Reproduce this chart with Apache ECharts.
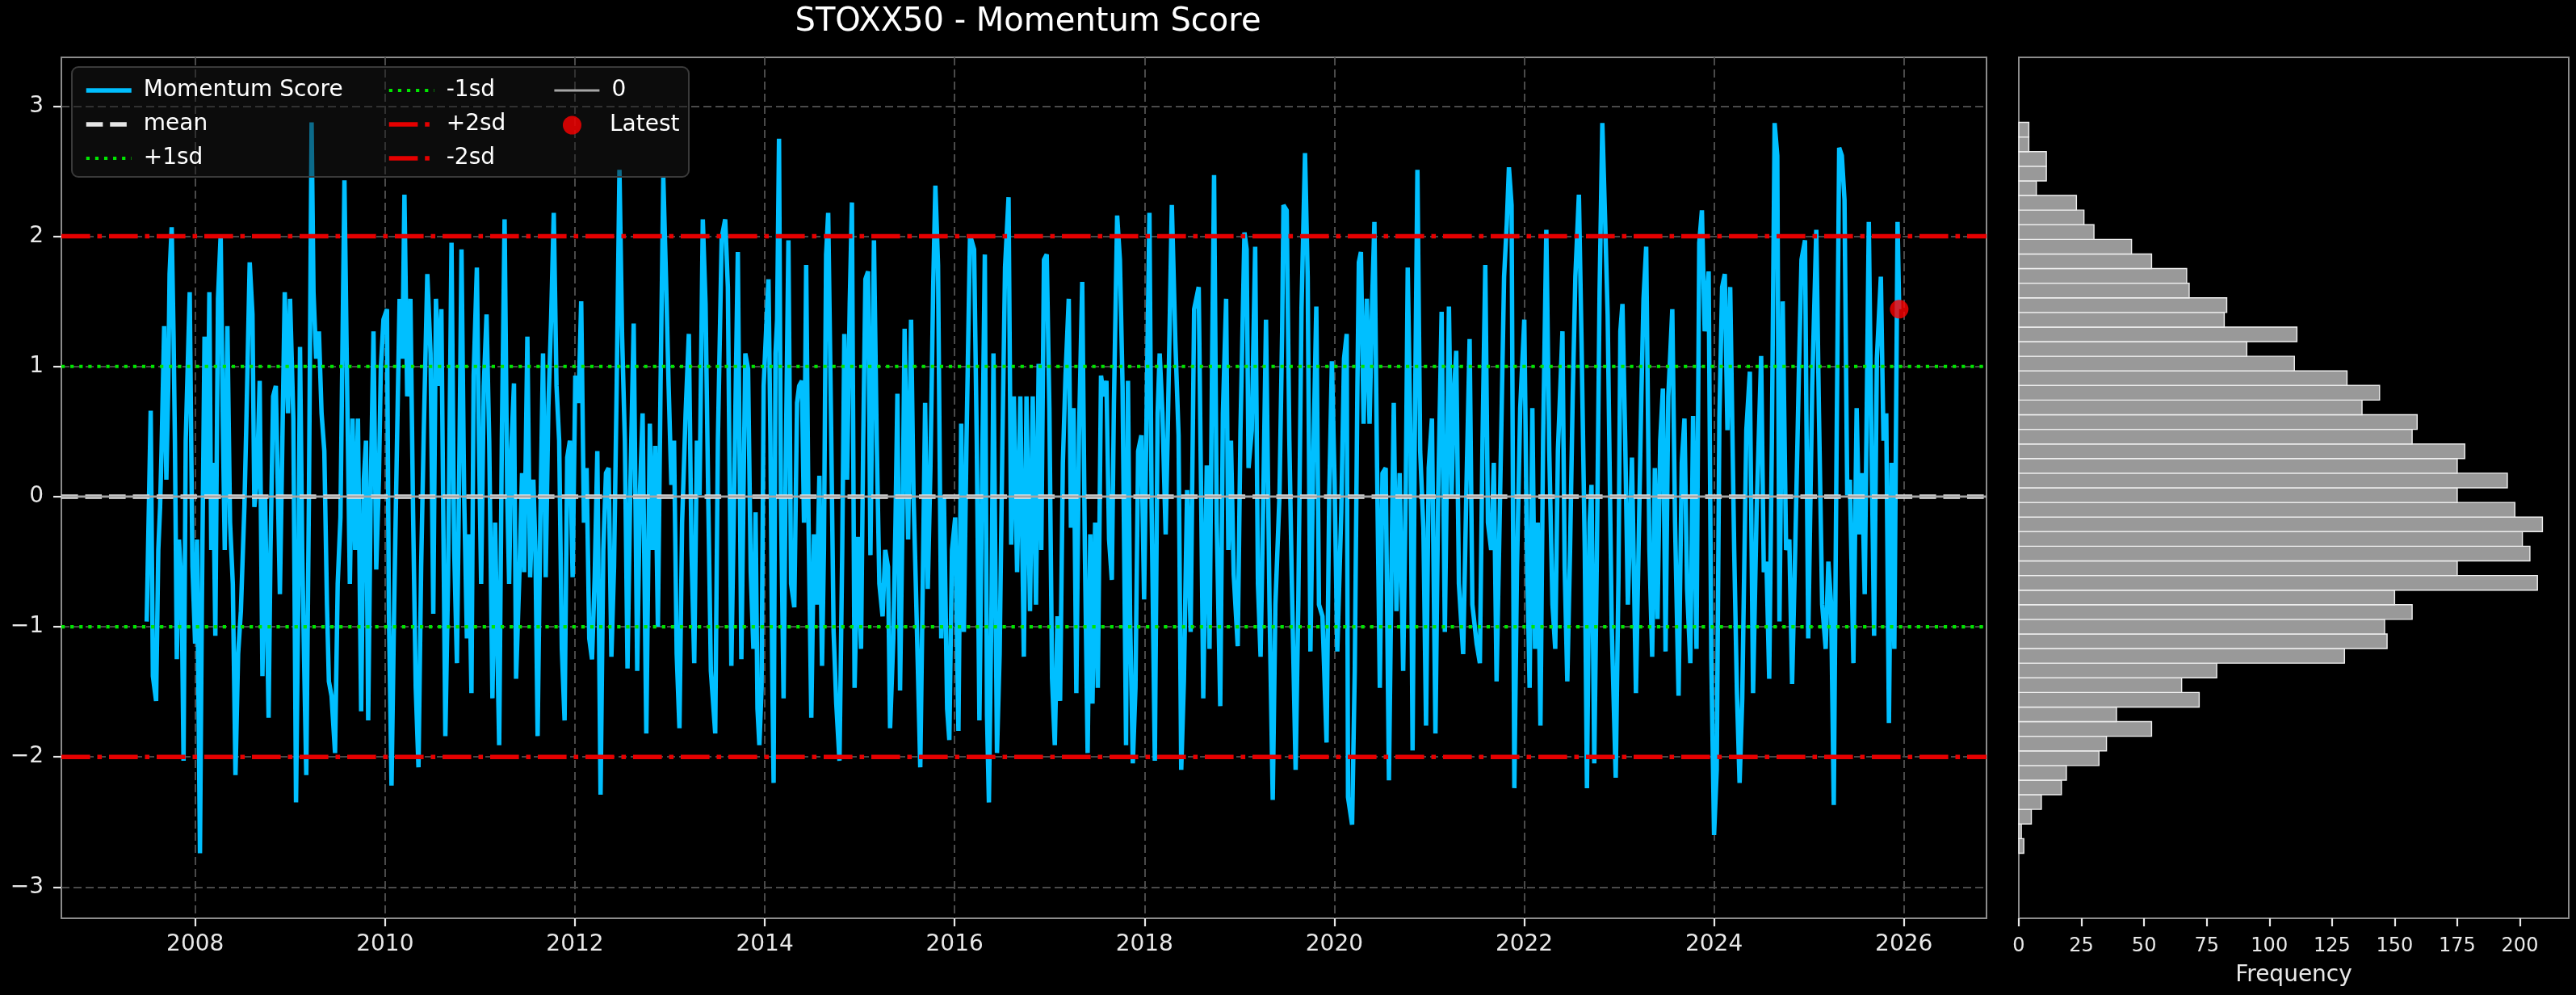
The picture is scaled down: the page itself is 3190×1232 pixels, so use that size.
<!DOCTYPE html>
<html><head><meta charset="utf-8">
<script src="https://cdn.jsdelivr.net/npm/echarts@6/dist/echarts.min.js"></script>
<style>html,body{margin:0;padding:0;background:#000;}#c{width:3190px;height:1232px;}</style>
</head><body><div id="c"></div>
<script>
// ---- Momentum score readings [decimal year, score] ----
const seg2007_2010 = [[2007.489,-0.96],[2007.503,-0.41],[2007.531,0.66],[2007.554,-1.38],[2007.588,-1.57],[2007.611,-0.41],[2007.630,-0.08],[2007.645,0.35],[2007.673,1.31],[2007.696,0.13],[2007.716,0.85],[2007.730,1.71],[2007.752,2.07],[2007.772,1.23],[2007.786,0.43],[2007.806,-1.25],[2007.829,-0.33],[2007.857,-0.71],[2007.877,-2.03],[2007.900,0.43],[2007.942,1.57],[2007.971,-0.54],[2007.999,-1.13],[2008.019,-0.33],[2008.050,-2.74],[2008.070,-0.83],[2008.098,1.23],[2008.127,0.01],[2008.149,1.57],[2008.169,-0.41],[2008.189,0.26],[2008.212,-1.07],[2008.240,1.52],[2008.268,2.01],[2008.291,0.56],[2008.311,-0.41],[2008.339,1.31],[2008.367,-0.20],[2008.396,-0.67],[2008.424,-2.14],[2008.452,-1.21],[2008.481,-0.88],[2008.518,-0.08],[2008.537,0.51],[2008.574,1.80],[2008.603,1.40],[2008.623,-0.08],[2008.651,0.13],[2008.679,0.89],[2008.708,-1.38],[2008.736,0.01],[2008.773,-1.70],[2008.793,-0.41],[2008.821,0.77],[2008.849,0.85],[2008.892,-0.75],[2008.920,0.51],[2008.943,1.57],[2008.977,0.64],[2008.999,1.52],[2009.034,0.60],[2009.062,-2.35],[2009.085,-0.83],[2009.104,1.15],[2009.127,-0.41],[2009.147,-1.25],[2009.170,-2.14],[2009.198,0.01],[2009.226,2.875],[2009.246,1.57],[2009.274,1.06],[2009.303,1.27],[2009.331,0.64],[2009.360,0.35],[2009.388,-0.83],[2009.408,-1.42],[2009.436,-1.53],[2009.473,-1.97],[2009.501,-0.67],[2009.530,-0.16],[2009.558,1.57],[2009.572,2.43],[2009.600,0.85],[2009.629,-0.67],[2009.657,0.60],[2009.685,-0.41],[2009.714,0.60],[2009.748,-1.65],[2009.776,0.13],[2009.799,0.43],[2009.822,-1.72],[2009.850,0.09],[2009.878,1.27],[2009.907,-0.56],[2009.935,0.13],[2009.955,0.98],[2009.983,1.36],[2010.020,1.44],[2010.040,-0.88],[2010.068,-2.22],[2010.096,-0.83],[2010.125,0.39],[2010.153,1.52],[2010.182,1.06],[2010.204,2.32],[2010.233,0.77],[2010.267,1.52],[2010.295,-0.12],[2010.323,-1.47],[2010.352,-2.08],[2010.380,-0.54],[2010.408,0.51],[2010.445,1.71],[2010.479,1.10],[2010.508,-0.90],[2010.536,1.52],[2010.564,0.85],[2010.593,1.44]];
const seg2010_2013 = [[2010.635,-1.84],[2010.663,-0.67],[2010.700,1.95],[2010.728,-0.41],[2010.757,-1.28],[2010.785,0.43],[2010.805,1.90],[2010.833,0.01],[2010.862,-1.09],[2010.882,-0.29],[2010.910,-1.51],[2010.933,0.93],[2010.967,1.76],[2010.989,0.43],[2011.012,-0.67],[2011.040,0.85],[2011.069,1.40],[2011.097,0.43],[2011.131,-1.55],[2011.159,-0.20],[2011.202,-1.91],[2011.230,0.43],[2011.259,2.13],[2011.287,0.01],[2011.307,-0.67],[2011.329,0.35],[2011.358,0.87],[2011.380,-1.40],[2011.414,-0.62],[2011.443,0.18],[2011.465,-0.58],[2011.499,1.23],[2011.528,-0.62],[2011.562,0.13],[2011.584,-0.41],[2011.607,-1.84],[2011.635,-0.20],[2011.664,1.10],[2011.692,-0.62],[2011.720,0.68],[2011.749,1.36],[2011.777,2.18],[2011.806,0.85],[2011.834,0.43],[2011.862,-1.17],[2011.891,-1.72],[2011.919,0.30],[2011.947,0.43],[2011.976,-0.62],[2012.004,0.93],[2012.038,0.72],[2012.066,1.50],[2012.095,-0.20],[2012.123,0.22],[2012.151,-1.09],[2012.180,-1.25],[2012.208,-0.62],[2012.236,0.35],[2012.270,-2.29],[2012.299,-0.41],[2012.327,0.18],[2012.355,0.22],[2012.384,-1.23],[2012.412,-0.54],[2012.440,0.85],[2012.469,2.51],[2012.497,1.23],[2012.526,0.43],[2012.554,-1.32],[2012.582,0.01],[2012.619,1.33],[2012.656,-1.34],[2012.684,0.01],[2012.713,0.64],[2012.752,-1.82],[2012.789,0.56],[2012.817,-0.41],[2012.846,0.39],[2012.874,-1.00],[2012.902,0.85],[2012.931,2.45],[2012.959,1.69],[2012.987,0.85],[2013.016,0.09],[2013.044,0.43],[2013.072,-1.21],[2013.101,-1.78],[2013.129,-0.20],[2013.166,0.64],[2013.200,1.25],[2013.228,-0.41],[2013.257,-1.28],[2013.285,0.43],[2013.313,0.01],[2013.347,2.13],[2013.376,1.48],[2013.404,0.01],[2013.432,-1.34],[2013.478,-1.82],[2013.506,0.43],[2013.546,1.99],[2013.583,2.13],[2013.611,1.61],[2013.648,-1.30],[2013.682,0.26],[2013.716,1.88]];
const seg2013_2016 = [[2013.753,-1.25],[2013.795,1.10],[2013.824,0.98],[2013.852,-0.58],[2013.880,-1.17],[2013.903,-0.12],[2013.923,-1.63],[2013.943,-1.91],[2013.966,-1.47],[2013.988,0.85],[2014.016,1.31],[2014.039,1.67],[2014.059,0.47],[2014.079,-1.38],[2014.093,-2.20],[2014.113,1.10],[2014.130,1.36],[2014.150,2.75],[2014.170,0.01],[2014.198,-1.55],[2014.221,0.26],[2014.249,1.97],[2014.277,-0.67],[2014.311,-0.85],[2014.340,0.72],[2014.362,0.85],[2014.391,0.89],[2014.413,-0.20],[2014.436,1.78],[2014.461,-0.20],[2014.490,-1.70],[2014.518,-0.29],[2014.547,-0.83],[2014.575,0.16],[2014.603,-1.30],[2014.623,-0.41],[2014.646,1.86],[2014.668,2.18],[2014.697,0.64],[2014.725,-1.04],[2014.753,-1.59],[2014.787,-2.03],[2014.816,-0.41],[2014.838,1.25],[2014.867,0.13],[2014.895,1.48],[2014.918,2.26],[2014.946,-1.47],[2014.980,-0.31],[2015.014,-1.17],[2015.037,0.43],[2015.060,1.67],[2015.088,1.73],[2015.113,-0.45],[2015.150,1.97],[2015.179,0.43],[2015.207,-0.67],[2015.241,-0.92],[2015.269,-0.41],[2015.298,-0.54],[2015.320,-1.78],[2015.354,-1.09],[2015.377,-0.20],[2015.397,0.79],[2015.425,-1.49],[2015.454,0.01],[2015.473,1.29],[2015.510,-0.33],[2015.541,1.36],[2015.567,0.01],[2015.595,-0.79],[2015.638,-2.08],[2015.666,-0.58],[2015.689,0.72],[2015.717,-0.71],[2015.745,0.22],[2015.774,1.61],[2015.797,2.39],[2015.825,1.78],[2015.859,-1.09],[2015.887,0.01],[2015.921,-1.63],[2015.944,-1.87],[2015.972,-0.41],[2016.006,-0.16],[2016.040,-1.80],[2016.069,0.56],[2016.097,-1.04],[2016.125,0.43],[2016.162,2.01],[2016.205,1.90],[2016.233,0.43],[2016.261,-1.72],[2016.290,0.18],[2016.318,1.86],[2016.341,-1.68],[2016.361,-2.35],[2016.389,-0.79],[2016.409,1.10],[2016.446,-1.97],[2016.474,-1.21],[2016.502,0.35],[2016.531,1.76],[2016.568,2.30],[2016.596,-0.37],[2016.624,0.77],[2016.658,-0.58],[2016.692,0.77],[2016.729,-1.23],[2016.757,0.77],[2016.794,-0.88],[2016.823,0.77],[2016.857,-0.83]];
const seg2016_2019 = [[2016.885,1.02],[2016.913,-0.41],[2016.941,1.82],[2016.970,1.86],[2016.998,0.68],[2017.026,-1.40],[2017.055,-1.91],[2017.083,-0.92],[2017.111,-1.57],[2017.140,0.26],[2017.168,0.93],[2017.202,1.52],[2017.225,-0.24],[2017.253,0.68],[2017.282,-1.51],[2017.310,0.47],[2017.344,1.65],[2017.372,-0.41],[2017.401,-1.97],[2017.429,-0.29],[2017.452,-1.59],[2017.480,-0.20],[2017.508,-1.47],[2017.542,0.93],[2017.571,0.77],[2017.599,0.89],[2017.627,-0.33],[2017.656,-0.64],[2017.678,0.72],[2017.712,2.16],[2017.741,1.82],[2017.769,0.85],[2017.806,-1.91],[2017.826,0.89],[2017.848,-0.92],[2017.877,-2.05],[2017.905,-1.47],[2017.933,0.35],[2017.967,0.47],[2017.996,-0.79],[2018.018,0.43],[2018.052,2.18],[2018.075,-0.08],[2018.109,-2.03],[2018.138,0.64],[2018.160,1.10],[2018.189,0.64],[2018.223,-0.29],[2018.245,0.51],[2018.288,2.24],[2018.325,1.19],[2018.359,0.47],[2018.387,-2.10],[2018.415,-1.42],[2018.449,0.05],[2018.486,-1.04],[2018.523,1.44],[2018.571,1.61],[2018.600,-0.20],[2018.619,-1.55],[2018.656,0.24],[2018.685,-1.17],[2018.713,1.10],[2018.733,2.47],[2018.761,-0.20],[2018.798,-1.61],[2018.826,0.64],[2018.860,1.52],[2018.883,-0.41],[2018.911,0.43],[2018.940,-0.60],[2018.982,-1.15],[2019.011,0.51],[2019.053,2.03],[2019.076,1.90],[2019.096,0.22],[2019.130,0.51],[2019.166,1.92],[2019.195,-0.67],[2019.223,-1.23],[2019.252,0.01],[2019.280,1.36],[2019.317,-0.83],[2019.351,-2.33],[2019.379,-0.83],[2019.422,0.01],[2019.450,1.27],[2019.464,2.24],[2019.498,2.20],[2019.526,0.43],[2019.549,-0.54],[2019.592,-2.10],[2019.620,-0.83],[2019.654,1.44],[2019.691,2.64],[2019.719,1.69],[2019.748,-1.19],[2019.776,0.22],[2019.810,1.46],[2019.838,-0.83],[2019.875,-0.92],[2019.918,-1.89],[2019.946,0.01],[2019.974,1.04]];
const seg2020_2023 = [[2020.002,0.13],[2020.031,-1.19],[2020.073,-0.12],[2020.102,1.06],[2020.130,1.25],[2020.144,-2.31],[2020.187,-2.52],[2020.215,-1.34],[2020.243,0.85],[2020.258,1.80],[2020.280,1.88],[2020.308,0.56],[2020.342,1.52],[2020.371,0.56],[2020.399,1.52],[2020.422,2.11],[2020.450,0.22],[2020.479,-1.47],[2020.507,0.18],[2020.541,0.22],[2020.575,-2.18],[2020.603,-0.50],[2020.626,0.72],[2020.654,-0.88],[2020.688,0.18],[2020.725,-1.34],[2020.753,0.09],[2020.773,1.76],[2020.802,0.43],[2020.824,-1.95],[2020.847,0.43],[2020.875,2.51],[2020.904,0.35],[2020.938,-0.24],[2020.966,-1.76],[2020.994,0.22],[2021.028,0.60],[2021.065,-1.82],[2021.094,0.01],[2021.130,1.42],[2021.164,-1.04],[2021.207,1.46],[2021.235,0.01],[2021.264,0.85],[2021.284,1.12],[2021.312,-0.67],[2021.357,-1.21],[2021.391,0.05],[2021.425,1.21],[2021.454,-0.83],[2021.499,-1.13],[2021.533,-1.28],[2021.561,0.43],[2021.590,1.78],[2021.618,-0.20],[2021.652,-0.41],[2021.680,0.26],[2021.709,-1.42],[2021.746,0.01],[2021.788,1.69],[2021.816,2.09],[2021.839,2.53],[2021.867,2.24],[2021.896,-2.24],[2021.924,-0.54],[2021.958,0.68],[2022.001,1.36],[2022.029,-0.41],[2022.057,-1.47],[2022.086,0.68],[2022.114,-1.17],[2022.142,-0.20],[2022.171,-1.76],[2022.199,0.43],[2022.233,2.05],[2022.264,0.35],[2022.298,-0.83],[2022.327,-1.17],[2022.355,0.35],[2022.403,1.27],[2022.426,-0.54],[2022.454,-1.42],[2022.483,-0.41],[2022.511,0.77],[2022.539,1.69],[2022.576,2.32],[2022.604,1.19],[2022.638,-0.41],[2022.661,-2.24],[2022.689,-0.20],[2022.709,0.09],[2022.738,-2.05],[2022.766,-0.41],[2022.794,1.57],[2022.823,2.87],[2022.851,2.16],[2022.879,1.40],[2022.922,-1.00],[2022.964,-2.16],[2022.993,-0.62],[2023.013,1.27],[2023.035,1.48],[2023.064,0.43],[2023.092,-0.83],[2023.135,0.30],[2023.177,-1.51]];
const seg2023_2025 = [[2023.234,0.77],[2023.257,1.52],[2023.285,1.92],[2023.319,-0.41],[2023.348,-1.23],[2023.376,0.22],[2023.404,-0.94],[2023.433,0.43],[2023.461,0.83],[2023.489,-1.19],[2023.518,0.77],[2023.560,1.44],[2023.589,-0.20],[2023.626,-1.53],[2023.660,0.26],[2023.688,0.60],[2023.716,-0.71],[2023.750,-1.28],[2023.779,0.62],[2023.815,-1.17],[2023.844,1.95],[2023.872,2.20],[2023.901,1.27],[2023.943,1.73],[2023.971,-1.25],[2024.000,-2.60],[2024.028,-2.10],[2024.056,0.60],[2024.085,1.61],[2024.113,1.71],[2024.141,0.51],[2024.170,1.61],[2024.212,-0.41],[2024.241,-1.51],[2024.269,-2.20],[2024.297,-1.55],[2024.340,0.51],[2024.377,0.96],[2024.411,-1.51],[2024.448,-0.12],[2024.496,1.08],[2024.524,-0.58],[2024.552,-0.50],[2024.581,-1.40],[2024.609,0.43],[2024.638,2.87],[2024.666,2.62],[2024.689,-0.96],[2024.723,1.50],[2024.759,-0.41],[2024.793,-0.33],[2024.822,-1.44],[2024.856,-0.37],[2024.893,0.93],[2024.921,1.82],[2024.958,1.97],[2024.992,-1.09],[2025.034,0.85],[2025.077,2.05],[2025.105,0.64],[2025.139,-0.83],[2025.176,-1.17],[2025.204,-0.50],[2025.233,-0.83],[2025.261,-2.37],[2025.289,0.22],[2025.318,2.68],[2025.346,2.62],[2025.374,2.28],[2025.403,0.01],[2025.431,0.13],[2025.468,-1.28],[2025.502,0.68],[2025.530,-0.29],[2025.559,0.18],[2025.587,-0.75],[2025.630,2.11],[2025.658,0.43],[2025.686,-1.07],[2025.715,1.06],[2025.757,1.69],[2025.785,0.43],[2025.814,0.64],[2025.842,-1.74],[2025.870,0.26],[2025.899,-1.17],[2025.933,2.11],[2025.950,1.44]];

// ---- statistics / reference levels ----
const scoreMean = 0.0;
const scoreSd = 1.0;

// ---- histogram of the score (50 bins, lowest bin first) ----
const histCounts = [2,1,5,9,17,19,32,35,53,39, 72,65,79,130,147,146,157,150,207,175, 204,201,209,198,175,195,175,178,157,159, 137,144,131,110,91,111,82,83,68,67, 53,45,30,26,23,7,11,11,4,4];
const histRange = [-2.74, 2.875];

// ---- axes ----
const yearTicks = [2008,2010,2012,2014,2016,2018,2020,2022,2024,2026];
const scoreTicks = [-3,-2,-1,0,1,2,3];
const freqTicks = [0,25,50,75,100,125,150,175,200];
const yearRange = [2006.59, 2026.87];
const scoreRange = [-3.24, 3.375];
const freqRange = [0, 219.5];

const momentum = [].concat(seg2007_2010, seg2010_2013, seg2013_2016, seg2016_2019, seg2020_2023, seg2023_2025);
const latestPoint = momentum[momentum.length - 1];
const binW = (histRange[1] - histRange[0]) / histCounts.length;
const histData = histCounts.map((c, i) => [histRange[0] + i * binW, histRange[0] + (i + 1) * binW, c]);
const hline = v => [[yearRange[0], v], [yearRange[1], v]];

const FONT = 'DejaVu Sans';
const TXT = '#e8e8e8';
const SPINE = '#8c8c8c';
const minus = v => (v < 0 ? '\u2212' + Math.abs(v) : String(v));

const ST = {
  score: { color: '#00bfff', width: 5.5, type: 'solid' },
  mean: { color: '#e6e6e6', width: 5.5, type: [20.6, 8.9] },
  sd1: { color: '#00e600', width: 4.2, type: [4.2, 6.9] },
  sd2: { color: '#e60000', width: 5.5, type: [35.6, 8.9, 5.6, 8.9] },
  zero: { color: '#a6a6a6', width: 2.8, type: 'solid' }
};

const lineSeries = (name, data, st, z) => ({
  type: 'line', name, data, xAxisIndex: 0, yAxisIndex: 0, symbol: 'none', silent: true, z,
  lineStyle: { color: st.color, width: st.width, type: st.type, cap: 'butt' }, itemStyle: { color: st.color }
});
const legItem = (name, st) => ({ name, lineStyle: { width: st.width, type: st.type, color: st.color, cap: 'butt' } });

const chart = echarts.init(document.getElementById('c'), null, { renderer: 'canvas' });
const legendBase = {
  orient: 'vertical', itemWidth: 56, itemHeight: 28, itemGap: 14, selectedMode: false,
  textStyle: { color: '#ffffff', fontSize: 28, fontFamily: FONT, padding: [0, 0, 0, 10], lineHeight: 28 },
  itemStyle: { opacity: 0 }, z: 6
};
const noLine = { show: false, onZero: false };
chart.setOption({
  backgroundColor: '#000000',
  animation: false,
  title: {
    text: 'STOXX50 - Momentum Score', left: 1268, top: 3, textAlign: 'center',
    textStyle: { color: '#ffffff', fontSize: 40, fontWeight: 'normal', fontFamily: FONT }
  },
  graphic: [{
    type: 'rect', z: 5, shape: { x: 89, y: 83, width: 764, height: 136, r: 8 },
    style: { fill: 'rgba(24,24,24,0.5)', stroke: '#3a3a3a', lineWidth: 2 }, silent: true
  }],
  legend: [
    Object.assign({}, legendBase, { left: 99, top: 93,
      data: [legItem('Momentum Score', ST.score), legItem('mean', ST.mean), legItem('+1sd', ST.sd1)] }),
    Object.assign({}, legendBase, { left: 474, top: 93,
      data: [legItem('-1sd', ST.sd1), legItem('+2sd', ST.sd2), legItem('-2sd', ST.sd2)] }),
    Object.assign({}, legendBase, { left: 680, top: 93, data: [legItem('0', ST.zero)] }),
    Object.assign({}, legendBase, { left: 692, top: 136, itemWidth: 23, itemHeight: 23, itemStyle: {},
      textStyle: Object.assign({}, legendBase.textStyle, { padding: [0, 0, 0, 30] }), data: ['Latest'] })
  ],
  grid: [
    { left: 76, top: 71, width: 2384, height: 1066, show: true, borderColor: SPINE, borderWidth: 2, backgroundColor: 'transparent' },
    { left: 2500, top: 71, width: 681, height: 1066, show: true, borderColor: SPINE, borderWidth: 2, backgroundColor: 'transparent' }
  ],
  xAxis: [
    { type: 'value', gridIndex: 0, min: yearRange[0], max: yearRange[1], position: 'bottom',
      axisLine: noLine,
      axisTick: { show: true, customValues: yearTicks, length: 10, lineStyle: { color: TXT, width: 2.2 } },
      axisLabel: { customValues: yearTicks, color: TXT, fontSize: 28, fontFamily: FONT, margin: 19, formatter: v => String(v) },
      splitLine: { show: true, lineStyle: { color: '#4a4a4a', width: 2, type: [10, 5] } } },
    { type: 'value', gridIndex: 1, min: freqRange[0], max: freqRange[1], position: 'bottom',
      axisLine: noLine,
      axisTick: { show: true, customValues: freqTicks, length: 10, lineStyle: { color: TXT, width: 2.2 } },
      axisLabel: { customValues: freqTicks, color: TXT, fontSize: 24, fontFamily: FONT, margin: 23 },
      splitLine: { show: false },
      name: 'Frequency', nameLocation: 'middle', nameGap: 57,
      nameTextStyle: { color: TXT, fontSize: 28, fontFamily: FONT } }
  ],
  yAxis: [
    { type: 'value', gridIndex: 0, min: scoreRange[0], max: scoreRange[1], position: 'left',
      axisLine: noLine,
      axisTick: { show: true, customValues: scoreTicks, length: 10, lineStyle: { color: TXT, width: 2.2 } },
      axisLabel: { customValues: scoreTicks, color: TXT, fontSize: 28, fontFamily: FONT, margin: 22, formatter: minus },
      splitLine: { show: true, lineStyle: { color: '#4a4a4a', width: 2, type: [10, 5] } } },
    { type: 'value', gridIndex: 1, min: scoreRange[0], max: scoreRange[1], position: 'left',
      axisLine: noLine, axisTick: { show: false }, axisLabel: { show: false }, splitLine: { show: false } }
  ],
  series: [
    lineSeries('Momentum Score', momentum, ST.score, 2),
    lineSeries('mean', hline(scoreMean), ST.mean, 3),
    lineSeries('+1sd', hline(scoreMean + scoreSd), ST.sd1, 3),
    lineSeries('-1sd', hline(scoreMean - scoreSd), ST.sd1, 3),
    lineSeries('+2sd', hline(scoreMean + 2 * scoreSd), ST.sd2, 3),
    lineSeries('-2sd', hline(scoreMean - 2 * scoreSd), ST.sd2, 3),
    lineSeries('0', hline(0), ST.zero, 3),
    { type: 'scatter', name: 'Latest', data: [latestPoint], xAxisIndex: 0, yAxisIndex: 0,
      symbol: 'circle', symbolSize: 23, itemStyle: { color: '#ff0000' }, z: 4, silent: true },
    { type: 'custom', name: 'hist', xAxisIndex: 1, yAxisIndex: 1, data: histData, silent: true,
      encode: { x: 2, y: [0, 1] },
      renderItem: (params, api) => {
        const p0 = api.coord([0, api.value(1)]);
        const p1 = api.coord([api.value(2), api.value(0)]);
        return { type: 'rect', shape: { x: p0[0], y: p0[1], width: p1[0] - p0[0], height: p1[1] - p0[1] },
          style: { fill: '#999999', stroke: '#eeeeee', lineWidth: 1.4 } };
      } }
  ]
});
</script></body></html>
